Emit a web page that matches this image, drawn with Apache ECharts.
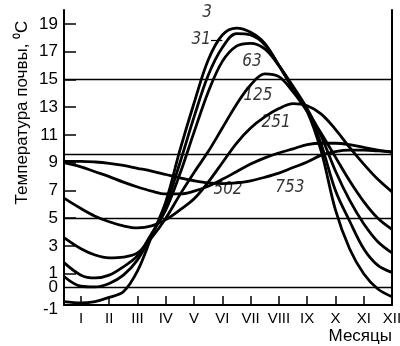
<!DOCTYPE html>
<html>
<head>
<meta charset="utf-8">
<script src="https://cdn.jsdelivr.net/npm/echarts@6/dist/echarts.min.js"></script>
<style>
  html, body { margin: 0; padding: 0; background: #fff; }
  #chart { width: 400px; height: 346px; }
</style>
</head>
<body>
<div id="chart"></div>
<script>
// месяцы (дробные - точки)
const months = [0.4, 1, 1.5, 2, 2.5, 3, 3.5, 4, 4.5, 5, 5.5, 6, 6.5, 7, 7.5, 8, 8.5, 9, 9.5, 10, 10.5, 11, 11.5, 12];
const monthTicks = [1, 2, 3, 4, 5, 6, 7, 8, 9, 10, 11, 12];
const monthNames = ['I', 'II', 'III', 'IV', 'V', 'VI', 'VII', 'VIII', 'IX', 'X', 'XI', 'XII'];
const tempTicks = [1, 3, 5, 7, 9, 11, 13, 15, 17, 19];
const tempLabels = [-1, 1, 3, 5, 7, 9, 11, 13, 15, 17, 19];
const refLines = [15, 9.6, 5, 0];

// глубины, см
const depths = ['3', '31', '63', '125', '251', '502', '753'];
const t3   = [-1.0, -1.1, -1.0, -0.7, -0.3, 1.2, 3.7, 6.2, 9.9, 13.3, 16.4, 18.2, 18.7, 18.4, 17.6, 16.0, 14.3, 12.7, 9.8, 5.6, 2.8, 1.0, -0.1, -0.65];
const t31  = [0.8, 0.1, 0.05, 0.3, 0.9, 2.0, 3.8, 5.9, 9.0, 12.3, 15.3, 17.3, 18.3, 18.2, 17.5, 16.0, 14.4, 12.8, 10.3, 7.0, 4.8, 2.8, 1.6, 1.1];
const t63  = [1.8, 0.9, 0.7, 0.9, 1.5, 2.3, 3.9, 5.6, 8.2, 11.2, 14.1, 16.3, 17.4, 17.6, 17.2, 16.0, 14.5, 12.9, 10.9, 8.4, 6.3, 4.6, 3.3, 2.5];
const t125 = [3.6, 2.8, 2.35, 2.15, 2.2, 2.5, 3.6, 5.0, 6.7, 8.3, 9.8, 11.5, 13.2, 14.6, 15.4, 15.2, 14.1, 12.7, 11.1, 9.4, 7.7, 6.2, 5.0, 4.2];
const t251 = [6.45, 5.7, 5.15, 4.75, 4.45, 4.3, 4.45, 4.9, 5.6, 6.4, 7.6, 9.0, 10.4, 11.5, 12.3, 12.9, 13.25, 13.1, 12.5, 11.4, 10.1, 8.9, 7.8, 6.9];
const t502 = [9.0, 8.7, 8.35, 8.0, 7.6, 7.25, 6.95, 6.75, 6.75, 6.95, 7.3, 7.8, 8.35, 8.9, 9.35, 9.7, 10.0, 10.3, 10.4, 10.4, 10.3, 10.1, 9.9, 9.75];
const t753 = [9.1, 9.1, 9.05, 8.95, 8.8, 8.6, 8.4, 8.15, 7.9, 7.7, 7.55, 7.5, 7.55, 7.7, 7.95, 8.25, 8.65, 9.05, 9.55, 9.8, 9.9, 9.9, 9.85, 9.8];
const allTemps = [t3, t31, t63, t125, t251, t502, t753];

let chart = echarts.init(document.getElementById('chart'));

const font = 'Liberation Sans';
const narrow = '"Liberation Sans Narrow", "DejaVu Sans Condensed", "Liberation Sans", sans-serif';

// подписи кривых (координаты в единицах осей)
const labelSpots = [[5.46, 19.8], [5.25, 17.9], [7.05, 16.3], [7.26, 13.8], [7.9, 11.9], [6.2, 7.1], [8.39, 7.2]];

const curveSeries = allTemps.map((vals, i) => ({
  name: depths[i],
  type: 'line',
  smooth: 0.35,
  symbol: 'none',
  data: months.map((m, k) => [m, vals[k]]),
  lineStyle: { color: '#000', width: 2.8 },
  z: 3
}));

chart.setOption({
  animation: false,
  grid: { left: 64, right: 8, top: 10, bottom: 41, outerBoundsMode: 'none', containLabel: false },
  xAxis: {
    type: 'value',
    min: 0.4,
    max: 12,
    name: 'Месяцы',
    nameLocation: 'end',
    nameGap: 0,
    nameMoveOverlap: false,
    nameTextStyle: { color: '#000', fontFamily: font, fontSize: 17, align: 'right', verticalAlign: 'top', padding: [23, 0, 0, 0] },
    axisLine: { onZero: false, lineStyle: { color: '#000', width: 2 } },
    axisTick: { inside: true, length: 9, customValues: monthTicks, lineStyle: { color: '#000', width: 1.5 } },
    axisLabel: {
      customValues: monthTicks,
      margin: 6,
      hideOverlap: false,
      color: '#000',
      fontFamily: font,
      fontSize: 15,
      formatter: v => monthNames[Math.round(v) - 1]
    },
    splitLine: { show: false }
  },
  yAxis: [
    {
      type: 'value',
      min: -1.25,
      max: 20,
      name: 'Температура почвы, ⁰С',
      nameLocation: 'middle',
      nameGap: 33,
      nameMoveOverlap: false,
      nameTextStyle: { color: '#000', fontFamily: font, fontSize: 17, padding: [0, 0, 0, 90] },
      axisLine: { show: true, onZero: false, lineStyle: { color: '#000', width: 2 } },
      axisTick: { show: true, inside: true, length: 12, customValues: tempTicks, lineStyle: { color: '#000', width: 1.5 } },
      axisLabel: {
        customValues: tempLabels,
        margin: 6,
        hideOverlap: false,
        showMinLabel: true,
        color: '#000',
        fontFamily: font,
        fontSize: 17,
        // "-1" в оригинале стоит чуть ниже оси
        formatter: v => (v === -1 ? '{low|-1}' : String(v)),
        rich: { low: { padding: [16, 0, 0, 0], color: '#000', fontFamily: font, fontSize: 17 } }
      },
      splitLine: { show: false }
    },
    {
      type: 'value',
      position: 'right',
      min: -1.25,
      max: 20,
      axisLine: { show: true, onZero: false, lineStyle: { color: '#000', width: 2 } },
      axisTick: { show: false },
      axisLabel: { show: false },
      splitLine: { show: false }
    }
  ],
  series: curveSeries.concat([
    {
      // горизонтальные линии, у нулевой - подпись "0" слева
      type: 'line',
      data: [],
      markLine: {
        silent: true,
        symbol: 'none',
        lineStyle: { color: '#000', width: 1.4, type: 'solid' },
        data: refLines.map(v => ({
          yAxis: v,
          label: v === 0
            ? { show: true, position: 'start', distance: 6, formatter: '0', color: '#000', fontFamily: font, fontSize: 17 }
            : { show: false }
        }))
      }
    },
    {
      // подписи глубин
      type: 'scatter',
      symbolSize: 0,
      data: labelSpots.map((p, i) => ({ value: p, name: depths[i] })),
      label: {
        show: true,
        position: 'inside',
        formatter: p => p.name,
        color: '#000',
        fontFamily: narrow,
        fontStyle: 'italic',
        fontSize: 17
      },
      markLine: {
        silent: true,
        symbol: 'none',
        label: { show: false },
        lineStyle: { color: '#000', width: 1.2, type: 'solid' },
        data: [[{ coord: [5.6, 17.85] }, { coord: [6.0, 17.85] }]]
      },
      z: 5
    }
  ])
});
</script>
</body>
</html>
